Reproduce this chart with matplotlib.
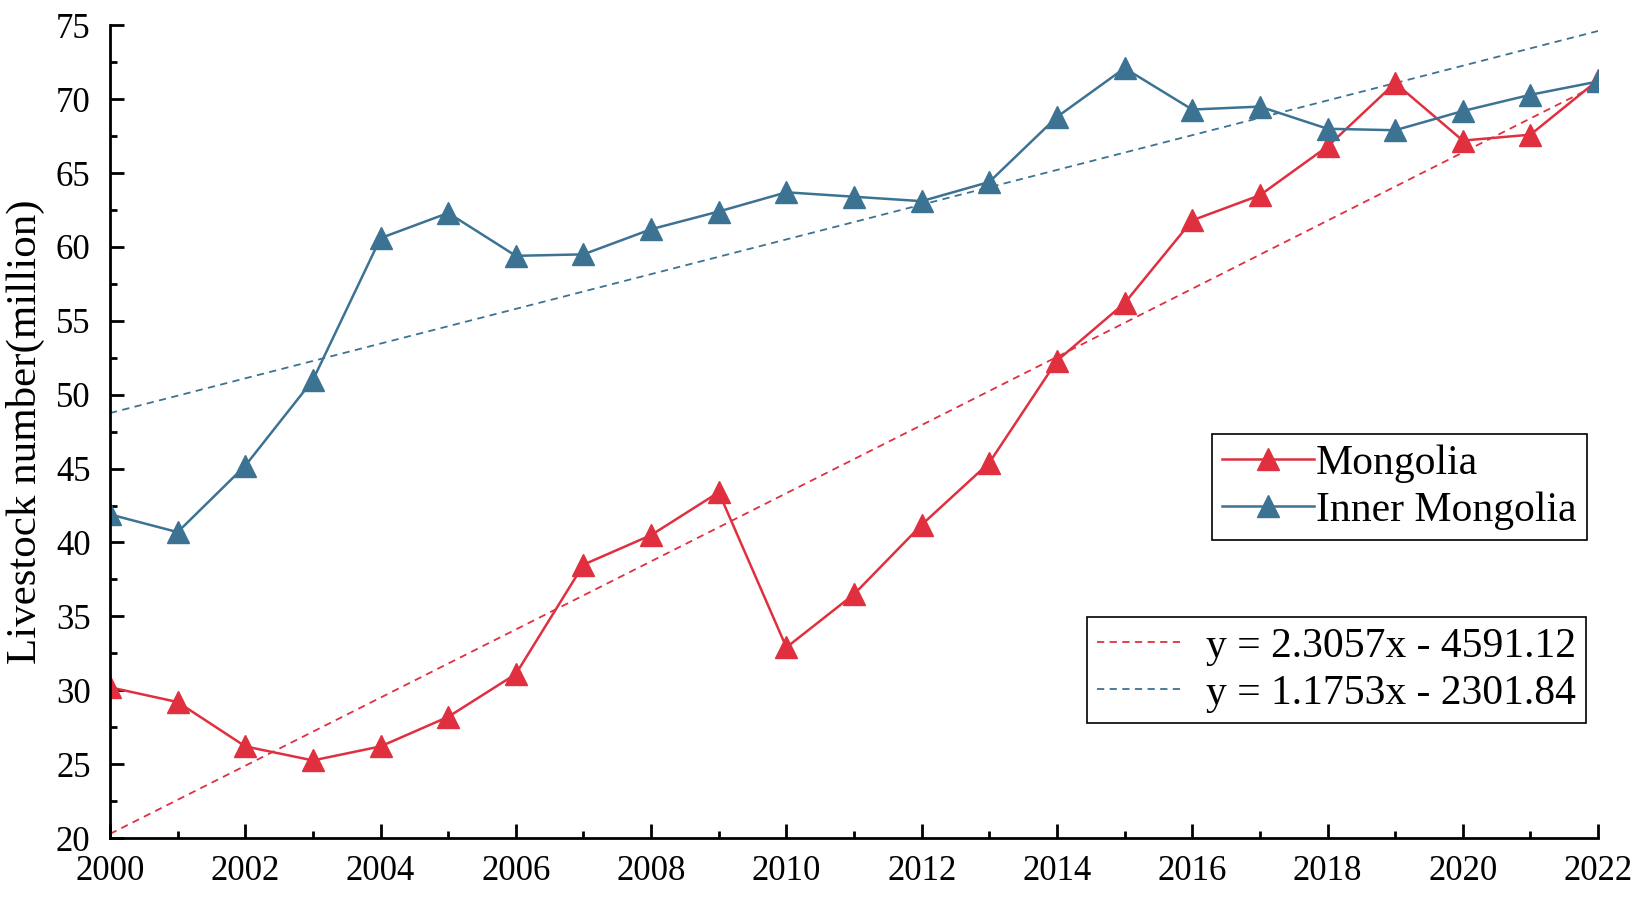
import matplotlib
matplotlib.use("Agg")
import matplotlib.pyplot as plt
from matplotlib.ticker import MultipleLocator
import numpy as np

years = list(range(2000, 2023))
mongolia = [30.2, 29.2, 26.2, 25.25, 26.2, 28.2, 31.1, 38.5, 40.5, 43.4, 32.9, 36.5,
            41.2, 45.4, 52.3, 56.2, 61.8, 63.5, 66.8, 71.1, 67.2, 67.6, 71.3]
inner_mongolia = [41.9, 40.7, 45.2, 51.0, 60.6, 62.3, 59.4, 59.5, 61.2, 62.4, 63.7, 63.4,
                  63.1, 64.4, 68.8, 72.1, 69.3, 69.5, 68.0, 67.9, 69.2, 70.3, 71.2]
# trend line coefficients as printed in the legend
fit_mongolia = (2.3057, -4591.12)
fit_inner = (1.1753, -2301.84)

red = "#E0303F"
blue = "#3C7393"

plt.rcParams['font.family'] = ['Liberation Serif', 'DejaVu Serif']

fig = plt.figure(figsize=(16.47, 8.98), dpi=100)
ax = fig.add_axes([0.0668, 0.0668, 0.9035, 0.905])

x = np.array(years)
fit_lines = []
for (k, b), c in [(fit_mongolia, red), (fit_inner, blue)]:
    ln, = ax.plot(x, k * x + b, color=c, lw=1.3, ls=(0, (4, 3)))
    fit_lines.append(ln)

h1, = ax.plot(years, mongolia, color=red, lw=1.8, marker='^', ms=15.5, label='Mongolia')
h2, = ax.plot(years, inner_mongolia, color=blue, lw=1.8, marker='^', ms=15.5,
              label='Inner Mongolia')

ax.set_xlim(2000, 2022)
ax.set_ylim(20, 75)
ax.xaxis.set_major_locator(MultipleLocator(2))
ax.xaxis.set_minor_locator(MultipleLocator(1))
ax.yaxis.set_major_locator(MultipleLocator(5))
ax.yaxis.set_minor_locator(MultipleLocator(2.5))
for s in ['top', 'right']:
    ax.spines[s].set_visible(False)
for s in ['left', 'bottom']:
    ax.spines[s].set_linewidth(2)
ax.tick_params(which='major', direction='in', length=10, width=2, labelsize=25)
ax.tick_params(axis='x', which='major', pad=12)
ax.tick_params(axis='y', which='major', pad=14)
ax.tick_params(which='minor', direction='in', length=5, width=2)
ax.set_ylabel('Livestock number(million)', fontsize=31, labelpad=8)

leg1 = ax.legend(handles=[h1, h2], loc='upper right', bbox_to_anchor=(0.9636, 0.5167),
                 bbox_transform=fig.transFigure, borderaxespad=0, fontsize=30,
                 fancybox=False, edgecolor='black', framealpha=1, handlelength=2.2,
                 handletextpad=0.05, borderpad=0.25, labelspacing=0.2)
leg1.get_frame().set_linewidth(1.2)
ax.add_artist(leg1)

leg2 = ax.legend(fit_lines, ['y = 2.3057x - 4591.12', 'y = 1.1753x - 2301.84'],
                 loc='upper right', bbox_to_anchor=(0.963, 0.3129),
                 bbox_transform=fig.transFigure, borderaxespad=0, fontsize=30,
                 fancybox=False, edgecolor='black', framealpha=1, handlelength=2.0,
                 handletextpad=0.6, borderpad=0.25, labelspacing=0.2)
leg2.get_frame().set_linewidth(1.2)

fig.savefig('out.png', dpi=100)
